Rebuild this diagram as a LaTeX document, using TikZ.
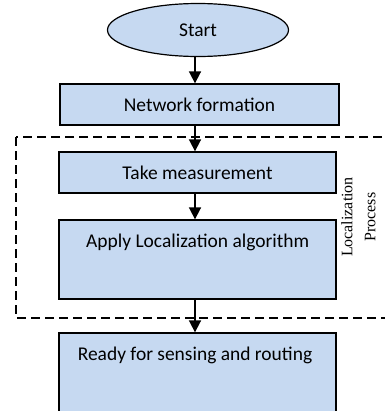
\documentclass[tikz,border=0pt]{standalone}
\usepackage{fontspec}
\setmainfont{Carlito}
\newfontfamily\timesfont{Liberation Serif}
\usetikzlibrary{shapes.geometric,arrows.meta}
\definecolor{boxfill}{HTML}{C6D9F1}
\tikzset{
  flowbox/.style={draw=black, line width=1pt, fill=boxfill, rectangle, inner sep=0pt,
    font=\fontsize{14.6pt}{17pt}\selectfont},
  startshape/.style={draw=black, line width=0.9pt, fill=boxfill, ellipse, inner sep=0pt,
    minimum width=135.75pt, minimum height=39.75pt, font=\fontsize{14.6pt}{17pt}\selectfont},
  boxtext/.style={inner sep=0pt, font=\fontsize{14.6pt}{17pt}\selectfont},
  flowarrow/.style={line width=1.3pt, -{Triangle[width=9pt,length=9pt]}},
  groupframe/.style={dashed, dash pattern=on 6.75pt off 3.75pt, line width=0.8pt},
  sidelabel/.style={inner sep=0pt, rotate=90, align=center,
    font=\timesfont\fontsize{12pt}{17.25pt}\selectfont}
}
\begin{document}
\begin{tikzpicture}[x=0.75pt, y=-0.75pt]
\useasboundingbox (0,0) rectangle (385,411);
\clip (0,0) rectangle (385,411);
% group frame
\draw[groupframe] (16,137) rectangle (410,318);
% nodes
\node[startshape] (start) at (198,30) {Start};
\node[flowbox, minimum width=209.25pt, minimum height=30.75pt] (net) at (199.5,104.5) {Network formation};
\node[flowbox, minimum width=207.75pt, minimum height=30.75pt] (take) at (197.5,172.5) {Take measurement};
\node[flowbox, minimum width=207.75pt, minimum height=59.25pt] (apply) at (197.5,259.5) {};
\node[boxtext] (applyT) at (197.7,242) {Apply Localization algorithm};
\node[flowbox, minimum width=207.75pt, minimum height=80.25pt] (ready) at (197.5,386.5) {};
\node[boxtext] (readyT) at (195,355) {Ready for sensing and routing};
\node[sidelabel] (loc) at (358.5,217) {Localization\\Process};
% arrows
\coordinate (axis) at (195,0);
\draw[flowarrow] (start.south -| axis) -- (net.north -| axis);
\draw[flowarrow] (net.south -| axis) -- (take.north -| axis);
\draw[flowarrow] (take.south -| axis) -- (apply.north -| axis);
\draw[flowarrow] (apply.south -| axis) -- (ready.north -| axis);
\end{tikzpicture}
\end{document}
